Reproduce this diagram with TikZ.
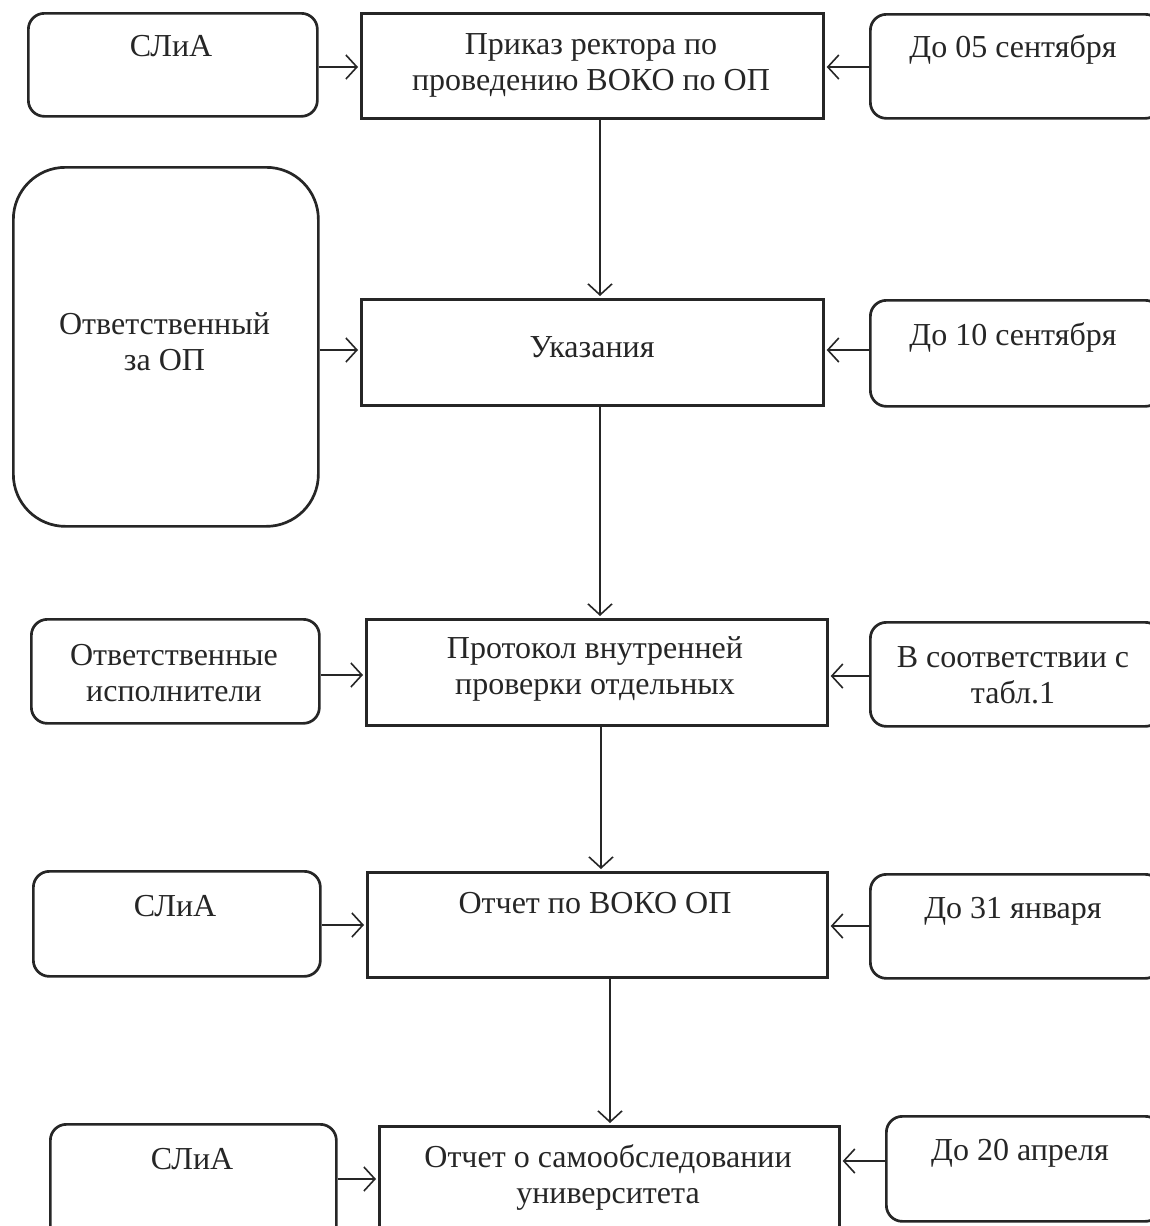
\documentclass[tikz,border=0pt]{standalone}
\usepackage{fontspec}
\setmainfont{Liberation Serif}
\usetikzlibrary{arrows.meta}
\tikzset{
  box/.style={draw=black!85, line width=2.7pt, rectangle, anchor=north west, inner sep=0pt},
  rbox/.style={box, rounded corners=16pt},
  txt/.style={inner sep=0pt, align=center, font=\fontsize{32}{36}\selectfont, text=black!85},
  arr/.style={draw=black!85, line width=1.6pt, -{Straight Barb[length=11pt,width=24pt,line width=1.6pt]}, shorten >=2pt},
}
\begin{document}
\begin{tikzpicture}[x=1pt,y=-1pt]
\useasboundingbox[fill=white] (0,0) rectangle (1150,1226);
% row 1
\node[rbox, minimum width=289pt, minimum height=103pt] (L1) at (27,12) {};
\node[box, minimum width=462pt, minimum height=105pt] (C1) at (360,12) {};
\node[rbox, minimum width=291pt, minimum height=104pt] (R1) at (869,13) {};
\node[txt] (L1t) at (171,46) {СЛиА};
\node[txt] (C1t) at (591,65) {Приказ ректора по\\проведению ВОКО по ОП};
\node[txt] (R1t) at (1013,49) {До 05 сентября};
% row 2
\node[box, rounded corners=52pt, minimum width=305pt, minimum height=359pt] (L2) at (12,166) {};
\node[box, minimum width=462pt, minimum height=106pt] (C2) at (360,298) {};
\node[rbox, minimum width=291pt, minimum height=106pt] (R2) at (869,299) {};
\node[txt] (L2t) at (164.5,342) {Ответственный\\за ОП};
\node[txt] (C2t) at (592,347) {Указания};
\node[txt] (R2t) at (1013,337) {До 10 сентября};
% row 3
\node[rbox, minimum width=288pt, minimum height=104pt] (L3) at (30,618) {};
\node[box, minimum width=461pt, minimum height=106pt] (C3) at (365,618) {};
\node[rbox, minimum width=291pt, minimum height=104pt] (R3) at (869,621) {};
\node[txt] (L3t) at (174,673) {Ответственные\\исполнители};
\node[txt] (C3t) at (595,669) {Протокол внутренней\\проверки отдельных};
\node[txt] (R3t) at (1013,675) {В соответствии с\\табл.1};
% row 4
\node[rbox, minimum width=287pt, minimum height=105pt] (L4) at (32,870) {};
\node[box, minimum width=460pt, minimum height=105pt] (C4) at (366,871) {};
\node[rbox, minimum width=291pt, minimum height=104pt] (R4) at (869,873) {};
\node[txt] (L4t) at (175,906) {СЛиА};
\node[txt] (C4t) at (595,903) {Отчет по ВОКО ОП};
\node[txt] (R4t) at (1013,911) {До 31 января};
% row 5
\node[rbox, minimum width=286pt, minimum height=120pt] (L5) at (49,1123) {};
\node[box, minimum width=460pt, minimum height=120pt] (C5) at (378,1125) {};
\node[rbox, minimum width=275pt, minimum height=105pt] (R5) at (885,1115) {};
\node[txt] (L5t) at (192,1159) {СЛиА};
\node[txt] (C5t) at (608,1177) {Отчет о самообследовании\\университета};
\node[txt] (R5t) at (1020,1153) {До 20 апреля};
% side arrows
\draw[arr] (L1.east |- 0,67) -- (C1.west |- 0,67);
\draw[arr] (R1.west |- 0,67) -- (C1.east |- 0,67);
\draw[arr] (L2.east |- 0,350) -- (C2.west |- 0,350);
\draw[arr] (R2.west |- 0,350) -- (C2.east |- 0,350);
\draw[arr] (L3.east |- 0,675) -- (C3.west |- 0,675);
\draw[arr] (R3.west |- 0,676) -- (C3.east |- 0,676);
\draw[arr] (L4.east |- 0,925) -- (C4.west |- 0,925);
\draw[arr] (R4.west |- 0,926) -- (C4.east |- 0,926);
\draw[arr] (L5.east |- 0,1179) -- (C5.west |- 0,1179);
\draw[arr] (R5.west |- 0,1161) -- (C5.east |- 0,1161);
% vertical arrows
\draw[arr] (C1.south -| 600,0) -- (C2.north -| 600,0);
\draw[arr] (C2.south -| 600,0) -- (C3.north -| 600,0);
\draw[arr] (C3.south -| 601,0) -- (C4.north -| 601,0);
\draw[arr] (C4.south -| 610,0) -- (C5.north -| 610,0);
\end{tikzpicture}
\end{document}
